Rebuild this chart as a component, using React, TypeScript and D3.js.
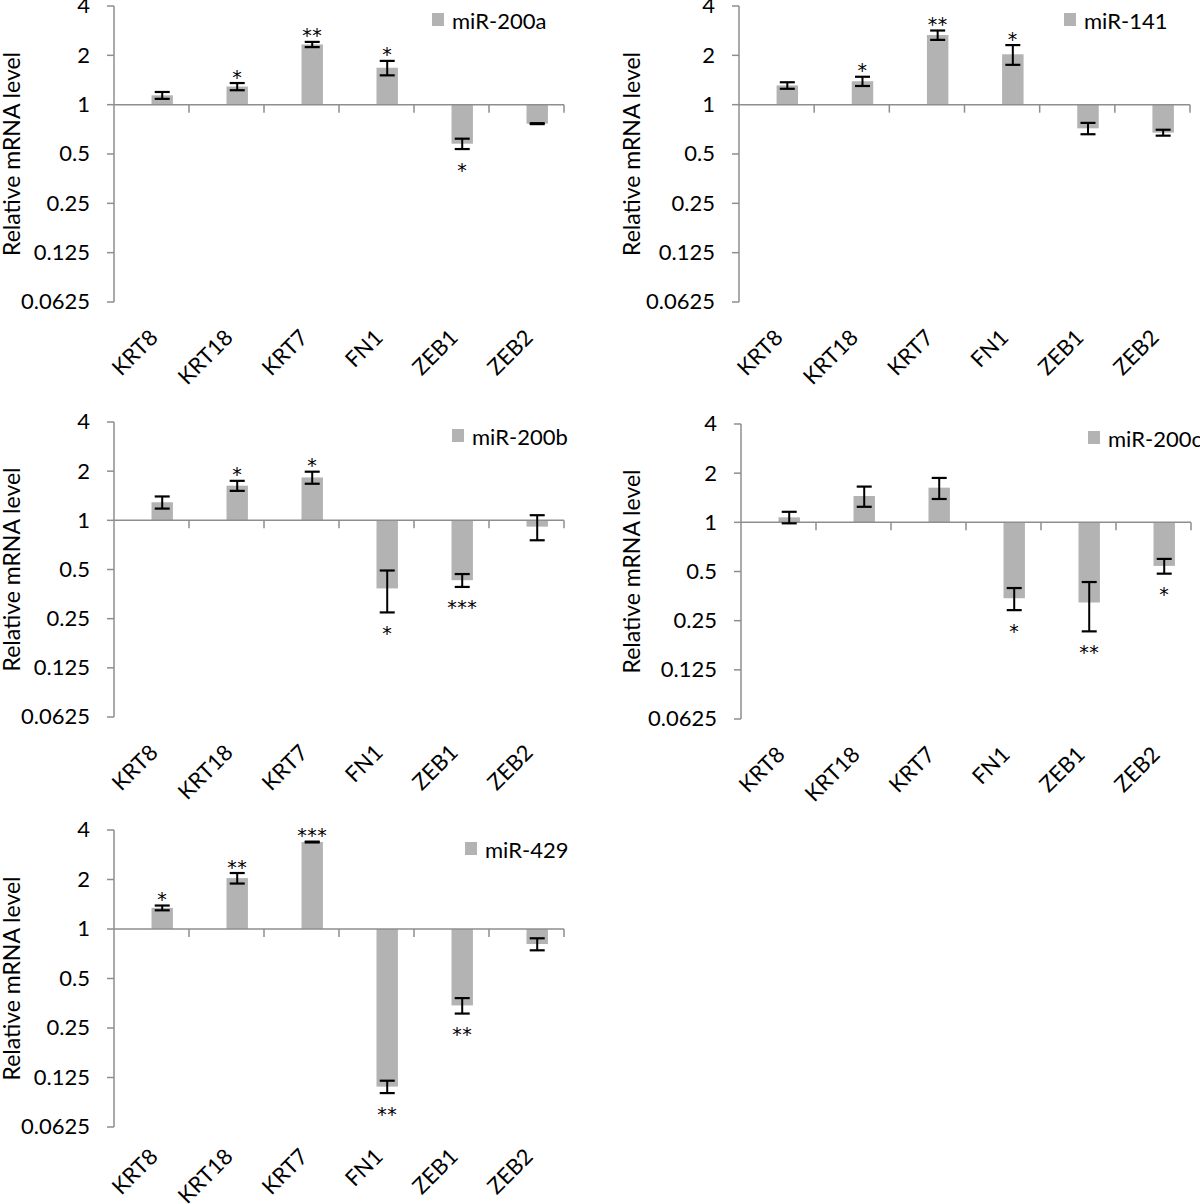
import React from "react";
import * as d3 from "d3";

// ---------- data ----------
const categories = ["KRT8", "KRT18", "KRT7", "FN1", "ZEB1", "ZEB2"];
const tickValues = [4, 2, 1, 0.5, 0.25, 0.125, 0.0625];
const tickLabels = ["4", "2", "1", "0.5", "0.25", "0.125", "0.0625"];
const yTitle = "Relative mRNA level";

const names = ["miR-200a", "miR-141", "miR-200b", "miR-200c", "miR-429"];

const mir200a = [1.14, 1.29, 2.33, 1.68, 0.578, 0.766];
const mir200aErr = [0.055, 0.065, 0.085, 0.17, 0.042, 0.005];
const mir200aStars = ["", "*", "**", "*", "*", ""];

const mir141 = [1.31, 1.39, 2.66, 2.03, 0.717, 0.675];
const mir141Err = [0.06, 0.09, 0.175, 0.28, 0.057, 0.028];
const mir141Stars = ["", "*", "**", "*", "", ""];

const mir200b = [1.29, 1.63, 1.83, 0.383, 0.43, 0.915];
const mir200bErr = [0.11, 0.115, 0.155, 0.11, 0.039, 0.16];
const mir200bStars = ["", "*", "*", "*", "***", ""];

const mir200c = [1.073, 1.45, 1.63, 0.343, 0.323, 0.541];
const mir200cErr = [0.087, 0.205, 0.24, 0.053, 0.108, 0.056];
const mir200cStars = ["", "", "", "*", "**", "*"];

const mir429 = [1.344, 2.04, 3.38, 0.11, 0.343, 0.81];
const mir429Err = [0.045, 0.15, 0.02, 0.0095, 0.037, 0.068];
const mir429Stars = ["*", "**", "***", "**", "**", ""];

const seriesValues = [mir200a, mir141, mir200b, mir200c, mir429];
const seriesErrors = [mir200aErr, mir141Err, mir200bErr, mir200cErr, mir429Err];
const seriesStars = [mir200aStars, mir141Stars, mir200bStars, mir200cStars, mir429Stars];

// ---------- layout ----------
const layouts = [
  { ax: 114, ae: 564, yt: 6, yb: 302, tx: 20, lx: 432, ly: 13, xl: 37 },
  { ax: 739, ae: 1190, yt: 6, yb: 302, tx: 640, lx: 1064, ly: 13, xl: 37 },
  { ax: 114, ae: 564, yt: 422, yb: 717, tx: 20, lx: 452, ly: 429, xl: 37 },
  { ax: 741, ae: 1191, yt: 424, yb: 719, tx: 640, lx: 1088, ly: 431, xl: 37 },
  { ax: 114, ae: 564, yt: 830, yb: 1127, tx: 20, lx: 465, ly: 842, xl: 31 },
];

const FONT = "Lato, 'Open Sans', sans-serif";
const STAR_FONT = "'DejaVu Sans', sans-serif";
const AXIS = "#8e8e8e";
const BAR = "#b3b3b3";

function Panel({ idx }: { idx: number }) {
  const L = layouts[idx];
  const vals = seriesValues[idx];
  const errs = seriesErrors[idx];
  const stars = seriesStars[idx];
  const y = d3.scaleLog().base(2).domain([0.0625, 4]).range([L.yb, L.yt]);
  const x = d3.scaleBand().domain(categories).range([L.ax, L.ae]).paddingInner(0).paddingOuter(0);
  const bw = x.bandwidth();
  const barW = bw / 3.5;
  const y1 = y(1);
  const boundaries = categories.map((c) => (x(c) as number) + bw);

  return (
    <g>
      {/* y title */}
      <text
        transform={`translate(${L.tx},${(L.yt + L.yb) / 2}) rotate(-90)`}
        textAnchor="middle"
        fontFamily={FONT}
        fontSize={23}
        fill="#000"
      >
        {yTitle}
      </text>
      {/* y axis */}
      <line x1={L.ax} x2={L.ax} y1={L.yt} y2={L.yb} stroke={AXIS} strokeWidth={1.5} />
      {tickValues.map((t, i) => (
        <g key={t}>
          <line x1={L.ax - 7} x2={L.ax} y1={y(t)} y2={y(t)} stroke={AXIS} strokeWidth={1.5} />
          <text
            x={L.ax - 24}
            y={y(t)}
            dy="0.34em"
            textAnchor="end"
            fontFamily={FONT}
            fontSize={22}
            fill="#000"
          >
            {tickLabels[i]}
          </text>
        </g>
      ))}
      {/* bars */}
      {categories.map((c, i) => {
        const v = vals[i];
        const bx = (x(c) as number) + bw * 0.5;
        const top = Math.min(y(v), y1);
        const h = Math.abs(y(v) - y1);
        return <rect key={c} x={bx} y={top} width={barW} height={h} fill={BAR} />;
      })}
      {/* x axis */}
      <line x1={L.ax} x2={L.ae} y1={y1} y2={y1} stroke={AXIS} strokeWidth={1.5} />
      {boundaries.map((b, i) => (
        <line key={i} x1={b} x2={b} y1={y1} y2={y1 + 8} stroke={AXIS} strokeWidth={1.5} />
      ))}
      {/* error bars + stars */}
      {categories.map((c, i) => {
        const v = vals[i];
        const e = errs[i];
        const cx = (x(c) as number) + bw * 0.5 + barW / 2;
        const yHi = y(v + e);
        const yLo = y(v - e);
        const s = stars[i];
        const up = v >= 1;
        const starCenter = up ? yHi - 11 : yLo + 16;
        return (
          <g key={c}>
            <line x1={cx} x2={cx} y1={yHi} y2={yLo} stroke="#000" strokeWidth={2} />
            <line x1={cx - 7.5} x2={cx + 7.5} y1={yHi} y2={yHi} stroke="#000" strokeWidth={2.2} />
            <line x1={cx - 7.5} x2={cx + 7.5} y1={yLo} y2={yLo} stroke="#000" strokeWidth={2.2} />
            {s && (
              <text
                x={cx}
                y={starCenter + 11.5}
                textAnchor="middle"
                fontFamily={STAR_FONT}
                fontSize={19}
                letterSpacing={0.5}
                fill="#000"
              >
                {s}
              </text>
            )}
          </g>
        );
      })}
      {/* x labels */}
      {categories.map((c) => {
        const cx = (x(c) as number) + bw * 0.5 + barW / 2;
        return (
          <text
            key={c}
            transform={`translate(${cx - 3},${L.yb + L.xl}) rotate(-45)`}
            textAnchor="end"
            fontFamily={FONT}
            fontSize={22}
            fill="#000"
          >
            {c}
          </text>
        );
      })}
      {/* legend */}
      <rect x={L.lx} y={L.ly} width={12} height={13} fill={BAR} />
      <text x={L.lx + 20} y={L.ly + 16} fontFamily={FONT} fontSize={22} fill="#000">
        {names[idx]}
      </text>
    </g>
  );
}

export default function App() {
  return (
    <svg
      width={1200}
      height={1204}
      style={{ position: "absolute", left: 0, top: 0, background: "#fff" }}
    >
      <rect width={1200} height={1204} fill="#fff" />
      {names.map((n, i) => (
        <Panel key={n} idx={i} />
      ))}
    </svg>
  );
}
